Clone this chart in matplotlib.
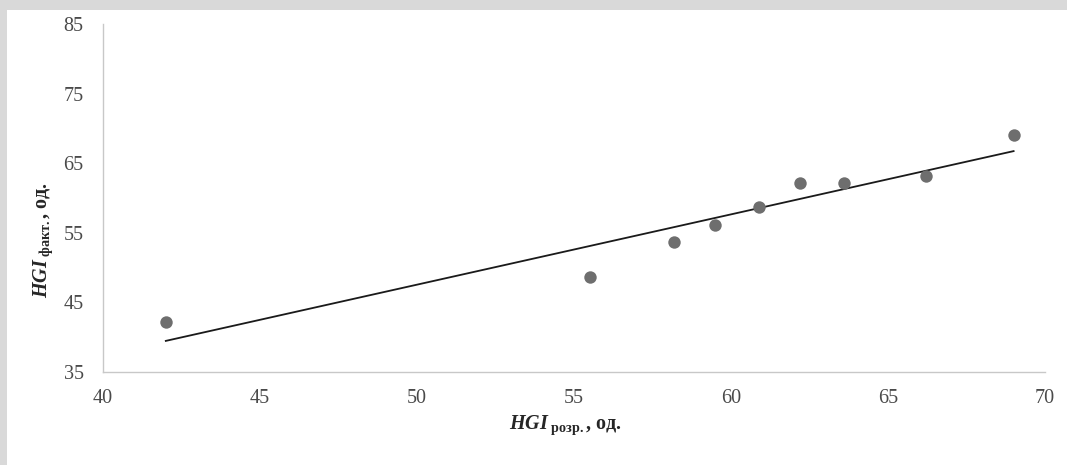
import numpy as np
import matplotlib
matplotlib.use("Agg")
import matplotlib.pyplot as plt
from matplotlib.patches import Rectangle

# HGI calculated vs actual
hgi_calc = [42.0, 55.5, 58.2, 59.5, 60.9, 62.2, 63.6, 66.2, 69.0]
hgi_fact = [42.2, 48.6, 53.7, 56.1, 58.7, 62.2, 62.2, 63.2, 69.0]
x_ticks = [40, 45, 50, 55, 60, 65, 70]
y_ticks = [35, 45, 55, 65, 75, 85]

plt.rcParams["font.family"] = ["Liberation Serif", "DejaVu Serif"]
plt.rcParams["mathtext.fontset"] = "custom"
plt.rcParams["mathtext.rm"] = "Liberation Serif"
plt.rcParams["mathtext.it"] = "Liberation Serif:italic"
plt.rcParams["mathtext.bf"] = "Liberation Serif:bold"
plt.rcParams["mathtext.bfit"] = "Liberation Serif:italic:bold"

fig = plt.figure(figsize=(10.67, 4.65), dpi=100)
fig.patch.set_facecolor("#d9d9d9")
fig.patches.append(Rectangle((7 / 1067, 0), 1, 1 - 10 / 465, transform=fig.transFigure,
                             facecolor="white", edgecolor="none", zorder=-5))

ax = fig.add_axes([103 / 1067, 1 - 372 / 465, (1045 - 103) / 1067, (372 - 24) / 465])
ax.set_facecolor("none")

x = np.array(hgi_calc)
y = np.array(hgi_fact)
ax.scatter(x, y, s=80, color="#6e6e6e", zorder=3, linewidths=0)
k, b = np.polyfit(x, y, 1)
xs = np.array([x.min(), x.max()])
ax.plot(xs, k * xs + b, color="#1a1a1a", lw=1.3, zorder=2)

ax.set_xlim(40, 70)
ax.set_ylim(35, 85)
ax.set_xticks(x_ticks)
ax.set_yticks(y_ticks)
ax.tick_params(length=0, labelsize=14.5, labelcolor="#4a4a4a")
ax.tick_params(axis="x", pad=12)
ax.tick_params(axis="y", pad=14)
for s in ["top", "right"]:
    ax.spines[s].set_visible(False)
for s in ["left", "bottom"]:
    ax.spines[s].set_color("#c8c8c8")
    ax.spines[s].set_linewidth(1.0)

ax.set_xlabel(r"$\mathbfit{HGI}_{\ \mathbf{розр.}}$, од.", fontsize=14.5, fontweight="bold",
              color="#262626")
ax.set_ylabel(r"$\mathbfit{HGI}_{\ \mathbf{факт.}}$, од.", fontsize=14.5, fontweight="bold",
              color="#262626")
ax.xaxis.set_label_coords(0.491, -0.118)
ax.yaxis.set_label_coords(-0.051, 0.38)

fig.savefig("out.png", dpi=100, facecolor=fig.get_facecolor())
